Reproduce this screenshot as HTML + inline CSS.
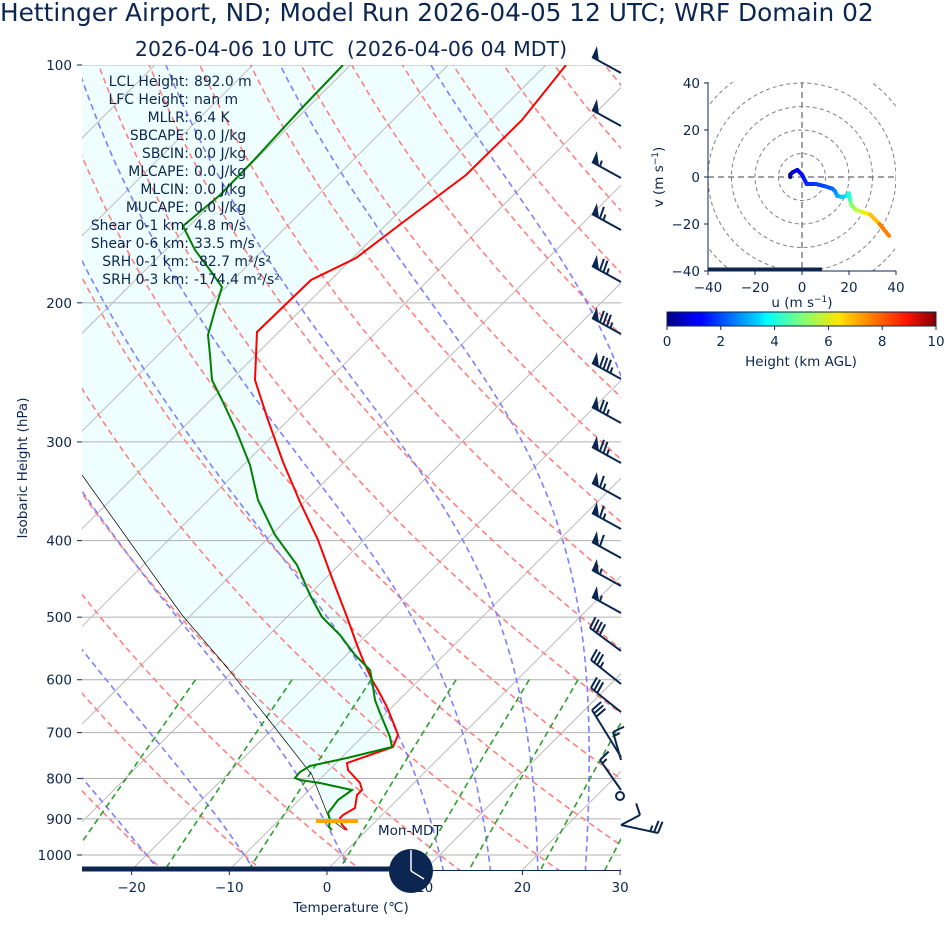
<!DOCTYPE html>
<html><head><meta charset="utf-8"><style>
body{margin:0;background:#fff;}
svg text{font-family:"DejaVu Sans","Liberation Sans",sans-serif;fill:#0b2650;}
</style></head><body>
<svg id="s" width="945" height="936" xmlns="http://www.w3.org/2000/svg">
<defs>
<clipPath id="pc"><rect x="82" y="65" width="539" height="805"/></clipPath>
<clipPath id="hc"><rect x="708" y="82" width="188" height="189"/></clipPath>
<linearGradient id="jet" x1="0" x2="1" y1="0" y2="0">
<stop offset="0" stop-color="#00007f"/><stop offset="0.11" stop-color="#0000ff"/><stop offset="0.125" stop-color="#0000ff"/>
<stop offset="0.34" stop-color="#00d4ff"/><stop offset="0.37" stop-color="#00ffff"/><stop offset="0.5" stop-color="#7dff7a"/>
<stop offset="0.64" stop-color="#ffe600"/><stop offset="0.66" stop-color="#ffd000"/><stop offset="0.89" stop-color="#ff1400"/><stop offset="1" stop-color="#7f0000"/>
</linearGradient>
</defs>
<text x="0" y="21" font-size="24.8">Hettinger Airport, ND; Model Run 2026-04-05 12 UTC; WRF Domain 02</text>
<text x="351" y="56" font-size="20.5" text-anchor="middle" xml:space="preserve">2026-04-06 10 UTC  (2026-04-06 04 MDT)</text>
<g id="plot" clip-path="url(#pc)"></g>
<g id="over"></g>
</svg>
<script>
const NS="http://www.w3.org/2000/svg";
const plot=document.getElementById('plot'),over=document.getElementById('over'),svg=document.getElementById('s');
function el(p,t,a){const e=document.createElementNS(NS,t);for(const k in a)e.setAttribute(k,a[k]);p.appendChild(e);return e;}
function Y(p){return 65+(Math.log10(p)-2)*790;}
function X(T,p){return 327+9.77*T+(870-Y(p));}
function poly(p,pts,st){return el(p,'polyline',Object.assign({points:pts.map(q=>q[0].toFixed(1)+','+q[1].toFixed(1)).join(' '),fill:'none'},st));}
const red=[[566,65],[522,120],[466,175],[398,226],[356,258],[311,280],[257,332],[255,380],[268,420],[283,462],[300,502],[318,540],[332,578],[347,617],[357,645],[363,660],[372,680],[378,690],[387,707],[395,727],[398,735],[393,747],[347,763],[348,770],[360,783],[362,790],[357,795],[355,808],[343,815],[340,818],[342,825],[347,830]];
const parcel=[[345,830],[329,818],[312,775],[269,720],[225,665],[182,615],[82,475]];
el(plot,'polygon',{points:[[82,65]].concat(red,parcel).map(q=>q.join(',')).join(' '),fill:'#efffff'});
for(let p=100;p<=1000;p+=100){el(plot,'line',{x1:82,x2:621,y1:Y(p),y2:Y(p),stroke:'#b0b0b0','stroke-width':1});}
for(let T=-120;T<=50;T+=10){const pts=[[X(T,1045),870],[X(T,100),65]];poly(plot,pts,{stroke:'#bbb','stroke-width':1});}
for(let th=-30;th<=200;th+=10){const pts=[];for(let p=1050;p>=100;p-=10){const T=(th+273.15)*Math.pow(p/1000,0.2857)-273.15;pts.push([X(T,p),Y(p)]);}poly(plot,pts,{stroke:'#ff8080','stroke-width':1.6,'stroke-dasharray':'6,4'});}
function es(Tc){return 6.112*Math.exp(17.67*Tc/(Tc+243.5));}
function dTdp(T,p){const Tc=T-273.15,e=es(Tc),rs=0.622*e/(p-e),Rd=287,Lv=2.5e6,cp=1005;return (Rd*T+Lv*rs)/(p*(cp+Lv*Lv*rs*0.622/(Rd*T*T)));}
[-50,-40,-30,-20,-10,0,10,15,20,25,30,35,40,45].forEach(t0=>{
 const top=[];let T=t0+273.15;for(let p=1000;p>=100;p-=2){top.push([X(T-273.15,p),Y(p)]);T-=dTdp(T,p)*2;}
 let Tb=t0+273.15;const bot=[];for(let p=1000;p<=1050;p+=2){bot.unshift([X(Tb-273.15,p),Y(p)]);Tb+=dTdp(Tb,p)*2;}
 poly(plot,bot.concat(top),{stroke:'#7f7fff','stroke-width':1.6,'stroke-dasharray':'6,4'});});
[0.0004,0.001,0.002,0.004,0.007,0.01,0.016,0.024,0.032].forEach(w=>{const pts=[];for(let p=600;p<=1050;p+=10){const e=w*p/(0.622+w),l=Math.log(e/6.112),Td=243.5*l/(17.67-l);pts.push([X(Td,p),Y(p)]);}poly(plot,pts,{stroke:'#2ca02c','stroke-width':1.6,'stroke-dasharray':'6,4'});});
poly(plot,parcel,{stroke:'#000','stroke-width':0.7});
poly(plot,red,{stroke:'#ff0000','stroke-width':2});
const grn=[[343,65],[300,110],[254,160],[220,195],[183,226],[195,250],[210,270],[222,287],[215,310],[208,335],[210,355],[212,380],[222,400],[236,430],[250,465],[258,500],[275,535],[297,565],[310,595],[322,617],[340,635],[355,655],[370,670],[372,680],[375,700],[380,713],[390,737],[392,747],[347,758],[310,766],[300,772],[295,778],[300,780],[320,783],[352,790],[338,800],[332,808],[328,813],[330,820],[329,827],[332,830]];
poly(plot,grn,{stroke:'#008000','stroke-width':2});
el(over,'line',{x1:316,x2:358,y1:821,y2:821,stroke:'#ffa500','stroke-width':4});
el(over,'line',{x1:82,x2:621,y1:870.5,y2:870.5,stroke:'#0b2650','stroke-width':1});
el(over,'line',{x1:82,x2:395,y1:869,y2:869,stroke:'#0b2650','stroke-width':5});
[-20,-10,0,10,20,30].forEach(T=>{const x=327+9.77*T;el(over,'line',{x1:x,x2:x,y1:870,y2:875,stroke:'#0b2650'});const t=el(over,'text',{x:x,y:892,'font-size':13.5,'text-anchor':'middle'});t.textContent=(T<0?'−'+(-T):T);});
for(let p=100;p<=1000;p+=100){el(over,'line',{x1:77,x2:82,y1:Y(p),y2:Y(p),stroke:'#0b2650'});const t=el(over,'text',{x:72,y:Y(p)+5,'font-size':13.5,'text-anchor':'end'});t.textContent=p;}
let t=el(over,'text',{x:351,y:912,'font-size':13.5,'text-anchor':'middle'});t.textContent='Temperature (℃)';
t=el(over,'text',{x:27,y:468,'font-size':13.5,'text-anchor':'middle',transform:'rotate(-90 27 468)'});t.textContent='Isobaric Height (hPa)';
const st=[['LCL Height:','892.0 m'],['LFC Height:','nan m'],['MLLR:','6.4 K'],['SBCAPE:','0.0 J/kg'],['SBCIN:','0.0 J/kg'],['MLCAPE:','0.0 J/kg'],['MLCIN:','0.0 J/kg'],['MUCAPE:','0.0 J/kg'],['Shear 0-1 km:','4.8 m/s'],['Shear 0-6 km:','33.5 m/s'],['SRH 0-1 km:','-82.7 m²/s²'],['SRH 0-3 km:','-174.4 m²/s²']];
st.forEach((s,i)=>{const y=86+18*i;let a=el(over,'text',{x:189,y:y,'font-size':13.9,'text-anchor':'end'});a.textContent=s[0];a=el(over,'text',{x:194,y:y,'font-size':13.9});a.textContent=s[1];});
t=el(over,'text',{x:378,y:835,'font-size':13.5});t.textContent='Mon-MDT';
el(over,'circle',{cx:411,cy:871,r:22,fill:'#0b2650'});
el(over,'line',{x1:411,y1:871,x2:411,y2:850,stroke:'#fff','stroke-width':1.5});
el(over,'line',{x1:411,y1:871,x2:424,y2:879,stroke:'#fff','stroke-width':1.5});
function barb(tx,ty,bx,by,F,B,H){const C='#0b2650';const L=Math.hypot(tx-bx,ty-by);const sx=(tx-bx)/L,sy=(ty-by)/L;let nx=-sy,ny=sx;if(ny>0){nx=-nx;ny=-ny;}
 el(over,'line',{x1:bx,y1:by,x2:tx,y2:ty,stroke:C,'stroke-width':2});let d=0;
 for(let i=0;i<F;i++){const px=tx-sx*d,py=ty-sy*d;el(over,'polygon',{points:`${px},${py} ${px+nx*12+sx*1},${py+ny*12+sy*1} ${px-sx*8},${py-sy*8}`,fill:C});d+=9;}
 for(let i=0;i<B;i++){const px=tx-sx*d,py=ty-sy*d;el(over,'line',{x1:px,y1:py,x2:px+nx*12+sx*2,y2:py+ny*12+sy*2,stroke:C,'stroke-width':2});d+=4;}
 for(let i=0;i<H;i++){if(d==0)d=4;const px=tx-sx*d,py=ty-sy*d;el(over,'line',{x1:px,y1:py,x2:px+nx*6+sx*1,y2:py+ny*6+sy*1,stroke:C,'stroke-width':2});}
}
[[57,1,0,0],[110,1,0,0],[162,1,0,1],[214,1,1,1],[266,1,2,1],[318,1,3,1],[363,1,3,1],[407,1,2,1],[447,1,2,1],[483,1,1,1],[513,1,1,1],[542,1,1,0],[570,1,0,1],[597,1,0,1]].forEach(b=>barb(592,b[0],621,b[0]+16,b[1],b[2],b[3]));
barb(590,628,621,651,0,4,0);barb(591,660,621,684,0,3,1);barb(591,688,621,712,0,3,0);
barb(592,710,621,757,0,3,0);barb(613,732,621,760,0,1,1);barb(600,760,621,790,0,1,1);
el(over,'circle',{cx:620,cy:796,r:4,fill:'none',stroke:'#0b2650','stroke-width':2});
barb(658,833,621,825,0,2,1);barb(640,815,621,825,0,1,0);
const hg=el(svg,'g',{});
const hx=u=>802+2.35*u,hy=v=>177-2.35*v;
const hcg=el(hg,'g',{'clip-path':'url(#hc)'});
for(let r=10;r<=60;r+=10)el(hcg,'circle',{cx:802,cy:177,r:r*2.35,fill:'none',stroke:'#808080','stroke-width':1,'stroke-dasharray':'4,3'});
el(hcg,'line',{x1:708,x2:896,y1:177,y2:177,stroke:'#808080','stroke-width':1.5,'stroke-dasharray':'6,4'});
el(hcg,'line',{x1:802,x2:802,y1:82,y2:271,stroke:'#808080','stroke-width':1.5,'stroke-dasharray':'6,4'});
const hp=[[-5,0],[-5,1],[-4,2],[-2,3],[0,1],[1,-1],[2,-3],[6,-3],[10,-4],[13,-5],[14,-6],[15,-8],[17,-8.5],[19,-8],[20,-7],[20.5,-10],[21,-12],[23,-14],[26,-15],[29,-16],[33,-20],[37,-25]];
const hc=['#00007f','#00009f','#0000c8','#0000e8','#0010ff','#0020ff','#0030ff','#0040ff','#0050ff','#0070ff','#0090ff','#00b0ff','#00d0ff','#10f0e6','#20ffd6','#60ff96','#90ff66','#c0ff36','#f0f000','#ffc000','#ff8000','#ff3000'];
for(let i=0;i<hp.length-1;i++)el(hcg,'line',{x1:hx(hp[i][0]),y1:hy(hp[i][1]),x2:hx(hp[i+1][0]),y2:hy(hp[i+1][1]),stroke:hc[i],'stroke-width':4,'stroke-linecap':'round'});
el(hg,'line',{x1:708,x2:708,y1:82,y2:271,stroke:'#0b2650'});
el(hg,'line',{x1:708,x2:896,y1:271,y2:271,stroke:'#0b2650'});
el(hg,'line',{x1:708,x2:822,y1:269.5,y2:269.5,stroke:'#0b2650','stroke-width':4});
[-40,-20,0,20,40].forEach(v=>{el(hg,'line',{x1:hx(v),x2:hx(v),y1:271,y2:275,stroke:'#0b2650'});let a=el(hg,'text',{x:hx(v),y:292,'font-size':13.5,'text-anchor':'middle'});a.textContent=v<0?'−'+(-v):v;
 el(hg,'line',{x1:704,x2:708,y1:hy(v),y2:hy(v),stroke:'#0b2650'});a=el(hg,'text',{x:700,y:hy(v)+5,'font-size':13.5,'text-anchor':'end'});a.textContent=v<0?'−'+(-v):v;});
t=el(hg,'text',{x:802,y:307,'font-size':13.5,'text-anchor':'middle'});t.innerHTML='u (m s<tspan dy="-5" font-size="9">−1</tspan><tspan dy="5">)</tspan>';
t=el(hg,'text',{x:663,y:177,'font-size':13.5,'text-anchor':'middle',transform:'rotate(-90 663 177)'});t.innerHTML='v (m s<tspan dy="-5" font-size="9">−1</tspan><tspan dy="5">)</tspan>';
el(hg,'rect',{x:667,y:312,width:269,height:14,fill:'url(#jet)',stroke:'#0b2650','stroke-width':1});
for(let k=0;k<=10;k+=2){const x=667+26.9*k;el(hg,'line',{x1:x,x2:x,y1:326,y2:330,stroke:'#0b2650'});const a=el(hg,'text',{x:x,y:346,'font-size':13.5,'text-anchor':'middle'});a.textContent=k;}
t=el(hg,'text',{x:801,y:366,'font-size':13.5,'text-anchor':'middle'});t.textContent='Height (km AGL)';
</script>
</body></html>
